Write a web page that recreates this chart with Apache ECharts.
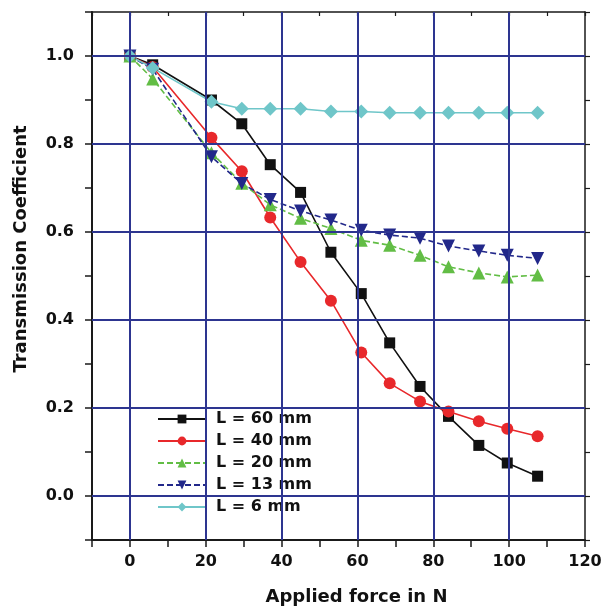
<!DOCTYPE html>
<html lang="en">
<head>
    <meta charset="UTF-8">
    <title>Transmission Coefficient</title>
    <script type="text/javascript" src="https://cdn.jsdelivr.net/npm/echarts/dist/echarts.min.js"></script>
    <style>
        html, body { margin: 0; padding: 0; background: #fff; }
        #main { width: 607px; height: 611px; }
    </style>
</head>
<body>
<div id="main"></div>
<script type="text/javascript">
    // applied force (N) for every measured point
    var force = [0, 6, 21.5, 29.5, 37, 45, 53, 61, 68.5, 76.5, 84, 92, 99.5, 107.5];
    // transmission coefficient per length
    var l60 = [1.0, 0.98, 0.90, 0.846, 0.753, 0.69, 0.554, 0.46, 0.348, 0.249, 0.181, 0.115, 0.075, 0.045];
    var l40 = [1.0, 0.975, 0.814, 0.738, 0.633, 0.532, 0.444, 0.326, 0.256, 0.215, 0.192, 0.17, 0.153, 0.136];
    var l20 = [1.0, 0.948, 0.78, 0.711, 0.662, 0.631, 0.608, 0.581, 0.57, 0.547, 0.521, 0.507, 0.498, 0.502];
    var l13 = [1.0, 0.97, 0.771, 0.71, 0.674, 0.648, 0.627, 0.604, 0.593, 0.586, 0.568, 0.557, 0.547, 0.54];
    var l6 = [1.0, 0.973, 0.896, 0.88, 0.88, 0.88, 0.874, 0.874, 0.871, 0.871, 0.871, 0.871, 0.871, 0.871];
    var names = ['L = 60 mm', 'L = 40 mm', 'L = 20 mm', 'L = 13 mm', 'L = 6 mm'];

    // labelled ticks (and grid lines)
    var xTicks = [0, 20, 40, 60, 80, 100, 120];
    var yTicks = [0, 0.2, 0.4, 0.6, 0.8, 1.0];
    var gridX = [0, 20, 40, 60, 80, 100];
    var gridY = [0, 0.2, 0.4, 0.6, 0.8, 1.0];

    var font = 'DejaVu Sans';
    var gridColor = '#2d3590';

    function pairs(ys) {
        var out = [];
        for (var i = 0; i < force.length; i++) {
            out.push([force[i], ys[i]]);
        }
        return out;
    }

    function isTick(list, v) {
        for (var i = 0; i < list.length; i++) {
            if (Math.abs(list[i] - v) < 1e-6) return true;
        }
        return false;
    }

    function mkSeries(name, ys, color, symbol, size, dashed, rotate) {
        return {
            name: name,
            type: 'line',
            data: pairs(ys),
            symbol: symbol,
            symbolSize: size,
            symbolRotate: rotate || 0,
            z: 3,
            itemStyle: { color: color },
            lineStyle: { color: color, width: 1.6, type: dashed ? [6, 3] : 'solid' }
        };
    }

    var grid = [];
    for (var i = 0; i < gridX.length; i++) grid.push({ xAxis: gridX[i] });
    for (var j = 0; j < gridY.length; j++) grid.push({ yAxis: gridY[j] });

    var myChart = echarts.init(document.getElementById('main'));
    var option = {
        animation: false,
        backgroundColor: '#fff',
        grid: { left: 92, right: 22, top: 12, bottom: 70 },
        legend: {
            data: names,
            orient: 'vertical',
            left: 157,
            top: 411,
            padding: 0,
            itemWidth: 48,
            itemHeight: 11,
            itemGap: 6,
            textStyle: { fontFamily: font, fontWeight: 'bold', fontSize: 16, color: '#111', lineHeight: 16, padding: [0, 0, 0, 5] }
        },
        xAxis: [{
            type: 'value', position: 'bottom',
            min: -10, max: 120, interval: 10,
            axisLine: { show: true, onZero: false, lineStyle: { color: '#1a1a1a', width: 2 } },
            axisTick: { show: true, inside: false, length: 7, lineStyle: { color: '#1a1a1a', width: 1.5 } },
            axisLabel: {
                margin: 14, color: '#111', fontFamily: font, fontWeight: 'bold', fontSize: 16,
                formatter: function (v) { return isTick(xTicks, v) ? String(v) : ''; }
            },
            splitLine: { show: false },
            name: 'Applied force in N', nameLocation: 'middle', nameGap: 48,
            nameTextStyle: { color: '#111', fontFamily: font, fontWeight: 'bold', fontSize: 18, padding: [0, 0, 0, 36] }
        }, {
            type: 'value', position: 'top',
            min: -10, max: 120, interval: 10,
            axisLine: { show: true, onZero: false, lineStyle: { color: '#1a1a1a', width: 1.5 } },
            axisTick: { show: true, inside: true, length: 4, lineStyle: { color: '#1a1a1a', width: 1.2 } },
            axisLabel: { show: false },
            splitLine: { show: false }
        }],
        yAxis: [{
            type: 'value', position: 'left',
            min: -0.1, max: 1.1, interval: 0.1,
            axisLine: { show: true, onZero: false, lineStyle: { color: '#1a1a1a', width: 2 } },
            axisTick: { show: true, inside: false, length: 7, lineStyle: { color: '#1a1a1a', width: 1.5 } },
            axisLabel: {
                margin: 18, color: '#111', fontFamily: font, fontWeight: 'bold', fontSize: 16,
                formatter: function (v) { return isTick(yTicks, v) ? v.toFixed(1) : ''; }
            },
            splitLine: { show: false },
            name: 'Transmission Coefficient', nameLocation: 'middle', nameGap: 62,
            nameTextStyle: { color: '#111', fontFamily: font, fontWeight: 'bold', fontSize: 18, padding: [0, 0, 0, 54] }
        }, {
            type: 'value', position: 'right',
            min: -0.1, max: 1.1, interval: 0.1,
            axisLine: { show: true, onZero: false, lineStyle: { color: '#1a1a1a', width: 1.5 } },
            axisTick: { show: true, inside: false, length: 5, lineStyle: { color: '#1a1a1a', width: 1.2 } },
            axisLabel: { show: false },
            splitLine: { show: false }
        }],
        series: [
            {
                // blue grid lines, drawn under the data
                name: 'grid', type: 'line', data: [[0, 1]], showSymbol: false, z: 1,
                lineStyle: { width: 0 },
                markLine: {
                    silent: true, symbol: ['none', 'none'], label: { show: false },
                    lineStyle: { color: gridColor, width: 2, type: 'solid' },
                    emphasis: { disabled: true },
                    data: grid
                }
            },
            mkSeries(names[0], l60, '#111111', 'rect', 11, false),
            mkSeries(names[1], l40, '#e8282b', 'circle', 12, false),
            mkSeries(names[2], l20, '#62bd45', 'triangle', 13, true),
            mkSeries(names[3], l13, '#22288a', 'triangle', 13, true, 180),
            mkSeries(names[4], l6, '#6fc6c9', 'diamond', 14, false)
        ]
    };
    myChart.setOption(option);
</script>
</body>
</html>
